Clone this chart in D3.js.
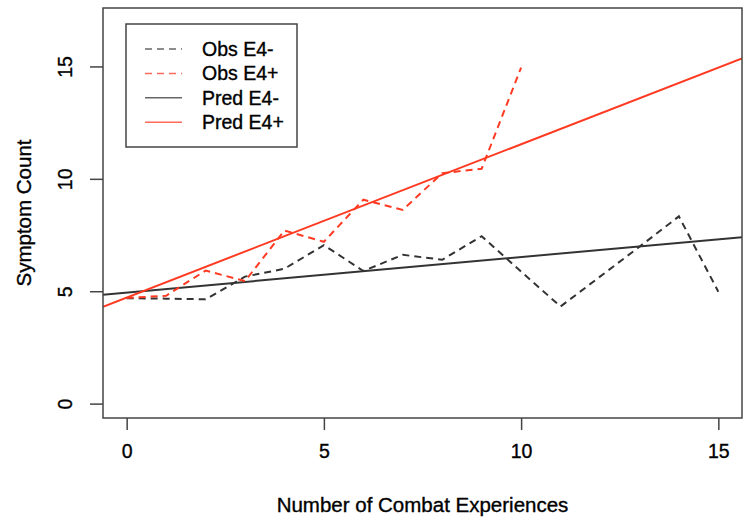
<!DOCTYPE html>
<html>
<head>
<meta charset="utf-8">
<script src="https://cdn.jsdelivr.net/npm/d3@7"></script>
<style>
	body { margin: 0; background: #fff; }
	svg { display: block; font-family: "Liberation Sans", Arial, Helvetica, sans-serif; }
	svg text { stroke: #000; stroke-width: 0.35px; }
</style>
</head>
<body>
<div id="chart-container"></div>
<script>
// Observed symptom counts by number of combat experiences
const combatCounts = [0, 1, 2, 3, 4, 5, 6, 7, 8, 9, 10, 11, 12, 13, 14, 15];
const obsE4Neg = [4.69, 4.67, 4.64, 5.65, 6.0, 7.05, 5.9, 6.62, 6.4, 7.45, 5.87, 4.32, 5.65, 6.98, 8.33, 4.98];
const obsE4PosCounts = [0, 1, 2, 3, 4, 5, 6, 7, 8, 9, 10];
const obsE4Pos = [4.7, 4.8, 5.92, 5.45, 7.7, 7.2, 9.07, 8.62, 10.25, 10.45, 14.95];

// Predicted lines (intercept, slope)
const predE4Neg = [4.94, 0.158];
const predE4Pos = [4.72, 0.682];

const xTicks = [0, 5, 10, 15];
const yTicks = [0, 5, 10, 15];

const legendLabels = ["Obs E4-", "Obs E4+", "Pred E4-", "Pred E4+"];
const legendColors = ["#333333", "#ff3a22", "#333333", "#ff3a22"];
const legendDashed = [true, true, false, false];

const width = 750;
const height = 525;
const plot = { left: 103, right: 742, top: 8, bottom: 418 };

const svg = d3
	.select("#chart-container")
	.append("svg")
	.attr("width", width)
	.attr("height", height);

const x = d3.scaleLinear().domain([-0.6, 15.6]).range([plot.left, plot.right]);
const y = d3.scaleLinear().domain([-0.64, 17.6]).range([plot.bottom, plot.top]);

// Clip lines to the plot box
svg
	.append("defs")
	.append("clipPath")
	.attr("id", "plot-clip")
	.append("rect")
	.attr("x", plot.left)
	.attr("y", plot.top)
	.attr("width", plot.right - plot.left)
	.attr("height", plot.bottom - plot.top);

const lines = svg.append("g").attr("clip-path", "url(#plot-clip)");

const line = d3
	.line()
	.x((d) => x(d[0]))
	.y((d) => y(d[1]));

// Predicted lines span the whole x domain
const predPoints = (p) => x.domain().map((v) => [v, p[0] + p[1] * v]);

lines
	.append("path")
	.attr("d", line(predPoints(predE4Neg)))
	.attr("fill", "none")
	.attr("stroke", "#333333")
	.attr("stroke-width", 2);

lines
	.append("path")
	.attr("d", line(predPoints(predE4Pos)))
	.attr("fill", "none")
	.attr("stroke", "#ff3a22")
	.attr("stroke-width", 2);

lines
	.append("path")
	.attr("d", line(combatCounts.map((c, i) => [c, obsE4Neg[i]])))
	.attr("fill", "none")
	.attr("stroke", "#333333")
	.attr("stroke-width", 2)
	.attr("stroke-dasharray", "7,5");

lines
	.append("path")
	.attr("d", line(obsE4PosCounts.map((c, i) => [c, obsE4Pos[i]])))
	.attr("fill", "none")
	.attr("stroke", "#ff3a22")
	.attr("stroke-width", 2)
	.attr("stroke-dasharray", "7,5");

// Plot box
svg
	.append("rect")
	.attr("x", plot.left)
	.attr("y", plot.top)
	.attr("width", plot.right - plot.left)
	.attr("height", plot.bottom - plot.top)
	.attr("fill", "none")
	.attr("stroke", "#444")
	.attr("stroke-width", 1.5);

// X axis
const xAxis = svg
	.append("g")
	.attr("transform", `translate(0, ${plot.bottom})`)
	.call(d3.axisBottom(x).tickValues(xTicks).tickSize(12).tickPadding(14).tickFormat(d3.format("d")));
xAxis.select(".domain").remove();
xAxis.selectAll("line").attr("stroke", "#444").attr("stroke-width", 1.5);
xAxis
	.selectAll("text")
	.attr("font-size", 19.5)
	.attr("font-family", "Liberation Sans, Arial, sans-serif")
	.attr("fill", "#000");

// Y axis with rotated labels
const yAxis = svg
	.append("g")
	.attr("transform", `translate(${plot.left}, 0)`)
	.call(d3.axisLeft(y).tickValues(yTicks).tickSize(13).tickFormat(d3.format("d")));
yAxis.select(".domain").remove();
yAxis.selectAll("line").attr("stroke", "#444").attr("stroke-width", 1.5);
yAxis
	.selectAll("text")
	.attr("font-size", 19.5)
	.attr("font-family", "Liberation Sans, Arial, sans-serif")
	.attr("fill", "#000")
	.attr("x", null)
	.attr("dy", null)
	.attr("text-anchor", "middle")
	.attr("transform", "translate(-31, 0) rotate(-90)");

// Axis titles
svg
	.append("text")
	.attr("x", (plot.left + plot.right) / 2)
	.attr("y", 512)
	.attr("text-anchor", "middle")
	.attr("font-size", 20.5)
	.text("Number of Combat Experiences");

svg
	.append("text")
	.attr("transform", `translate(31, ${(plot.top + plot.bottom) / 2}) rotate(-90)`)
	.attr("text-anchor", "middle")
	.attr("font-size", 20.5)
	.text("Symptom Count");

// Legend
const legend = svg.append("g").attr("transform", "translate(126, 24)");

legend
	.append("rect")
	.attr("width", 171)
	.attr("height", 123)
	.attr("fill", "#fff")
	.attr("stroke", "#444")
	.attr("stroke-width", 1.5);

const entries = legend
	.selectAll("g")
	.data(legendLabels)
	.enter()
	.append("g")
	.attr("transform", (d, i) => `translate(0, ${25 + i * 24.4})`);

entries
	.append("line")
	.attr("x1", 19)
	.attr("x2", 56)
	.attr("stroke", (d, i) => legendColors[i])
	.attr("stroke-width", 1.5)
	.attr("stroke-opacity", 0.75)
	.attr("stroke-dasharray", (d, i) => (legendDashed[i] ? "7,5" : null));

entries
	.append("text")
	.attr("x", 76)
	.attr("dy", "0.35em")
	.attr("font-size", 19.5)
	.text((d) => d);
</script>
</body>
</html>
